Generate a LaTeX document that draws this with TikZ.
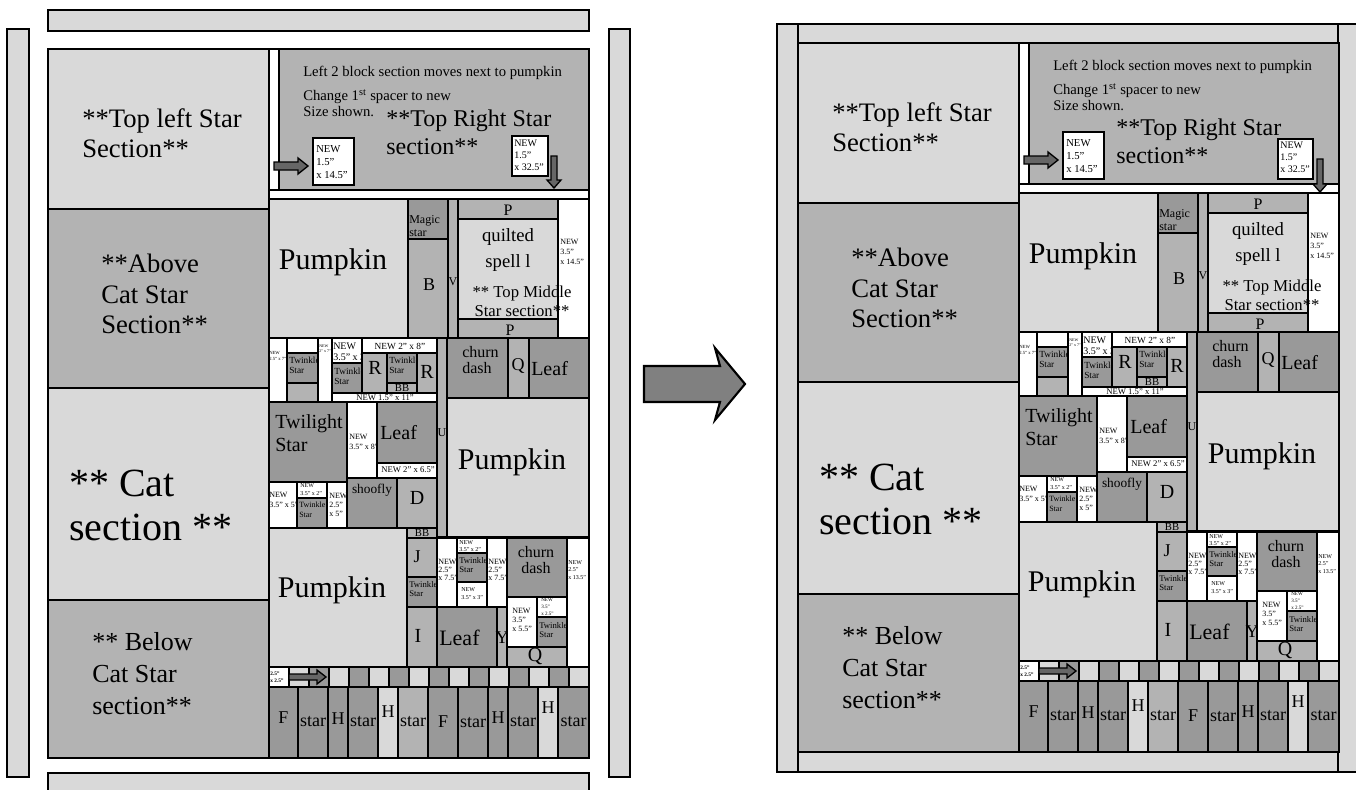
\documentclass[tikz,border=0pt]{standalone}
\usepackage{fontspec}
\setmainfont{Liberation Serif}
\usepackage{xcolor}
\usepackage{tikz}
\usetikzlibrary{calc}
\definecolor{qlight}{HTML}{D9D9D9}
\definecolor{qmid}{HTML}{B3B3B3}
\definecolor{qdark}{HTML}{999999}
\definecolor{qarrow}{HTML}{666666}
\definecolor{qbig}{HTML}{808080}
\tikzstyle{lt} = [draw, fill=qlight, line width=2pt]
\tikzstyle{md} = [draw, fill=qmid, line width=2pt]
\tikzstyle{dk} = [draw, fill=qdark, line width=2pt]
\tikzstyle{wt} = [draw, fill=white, line width=2pt]
\tikzstyle{cell} = [draw, line width=2pt]
\tikzstyle{arr} = [draw, fill=qarrow, line width=1pt, line join=miter]
\tikzstyle{txt} = [inner sep=0pt, anchor=west, align=left]
\tikzstyle{ctr} = [inner sep=0pt, align=center]
\newcommand{\fs}[2]{\fontsize{#1}{#2}\selectfont}

% the quilt layout, drawn once per panel
\newcommand{\quiltbody}{%
% left column
\draw[lt] (48,49) rectangle (269,209);
\draw[md] (48,209) rectangle (269,388);
\draw[lt] (48,388) rectangle (269,600);
\draw[md] (48,600) rectangle (269,758);
\node[txt, font=\fs{20}{22.5}] (topleft) at (82,133) {**Top left Star\\Section**};
\node[txt, font=\fs{20}{23}] (abovecat) at (101,294) {**Above\\Cat Star\\Section**};
\node[txt, font=\fs{30}{33}] (cat) at (69,505) {** Cat\\section **};
\node[txt, font=\fs{19.5}{24}] (belowcat) at (92,674) {** Below\\Cat Star\\section**};
% top right star section
\draw[wt] (269,49) rectangle (279,190);
\draw[md] (279,49) rectangle (589,190);
\draw[wt] (269,190) rectangle (589,199);
\node[txt, font=\fs{11}{16}] (notea) at (303,73) {Left 2 block section moves next to pumpkin};
\node[txt, font=\fs{11}{12}] (noteb) at (303,103) {Change 1\textsuperscript{st} spacer to new\\Size shown.};
\draw[wt] (313,138) rectangle (354,185);
\node[txt, font=\fs{8}{10}] (newa) at (316,162) {NEW\\1.5”\\x 14.5”};
\draw[arr] (274,162) -- (298,162) -- (298,158) -- (308,166) -- (298,174) -- (298,170) -- (274,170) -- cycle;
% pumpkin row
\draw[lt] (269,199) rectangle (408,338);
\node[ctr, font=\fs{22.5}{25}] (pumpa) at (333,262) {Pumpkin};
\draw[dk] (408,199) rectangle (448,239);
\node[txt, font=\fs{9}{10}] (magic) at (409,226) {Magic\\star};
\draw[md] (408,239) rectangle (448,338);
\node[ctr, font=\fs{13.5}{15}] (b) at (429,285) {B};
\draw[md] (448,199) rectangle (458,338);
\node[ctr, font=\fs{9}{10}] (v) at (453,282) {V};
\draw[md] (458,199) rectangle (558,219);
\node[ctr, font=\fs{12}{13}] (pa) at (508,210) {P};
\draw[lt] (458,219) rectangle (558,319);
\draw[md] (458,319) rectangle (558,338);
\node[ctr, font=\fs{12}{13}] (pb) at (510,330) {P};
\draw[wt] (558,199) rectangle (589,338);
\node[txt, font=\fs{6}{7.5}] (newb) at (560,252) {NEW\\3.5”\\x 14.5”};
\node[ctr, font=\fs{14}{19}] (quilted) at (508,250) {quilted\\spell l};
\node[ctr, font=\fs{12.5}{14}] (topmid) at (522,301) {** Top Middle\\Star section**};
% small blocks beside the pumpkin
\draw[wt] (269,338) rectangle (287,402);
\node[txt, font=\fs{3.5}{4.5}] (newc) at (269,356) {NEW\\2.5” x 7”};
\draw[wt] (287,338) rectangle (318,353);
\draw[dk] (287,353) rectangle (318,383);
\node[txt, font=\fs{7}{7.5}] (twa) at (289,365) {Twinkle\\Star};
\draw[md] (287,383) rectangle (318,402);
\draw[wt] (318,338) rectangle (332,402);
\node[txt, font=\fs{3}{4}] (newd) at (319,349) {NEW\\2” x 7”};
\draw[wt] (332,338) rectangle (362,363);
\node[txt, font=\fs{7.5}{8}] (newe) at (333,352) {NEW\\3.5” x 3”};
\draw[dk] (332,363) rectangle (362,393);
\node[txt, font=\fs{7}{7.5}] (twb) at (334,376) {Twinkle\\Star};
\draw[wt] (362,338) rectangle (437,353);
\node[ctr, font=\fs{7}{8}] (newf) at (400,346) {NEW 2” x 8”};
\draw[md] (362,353) rectangle (387,393);
\node[ctr, font=\fs{15}{16}] (ra) at (375,368) {R};
\draw[dk] (387,353) rectangle (417,383);
\node[txt, font=\fs{7}{7.5}] (twc) at (389,365) {Twinkle\\Star};
\draw[md] (387,383) rectangle (417,393);
\node[ctr, font=\fs{8}{9}] (bba) at (402,388) {BB};
\draw[md] (417,353) rectangle (437,393);
\node[ctr, font=\fs{15}{16}] (rb) at (427,372) {R};
\draw[wt] (332,393) rectangle (437,402);
\node[ctr, font=\fs{6.5}{7}] (newg) at (385,398) {NEW 1.5” x 11”};
% U strip and the right pumpkin
\draw[md] (437,338) rectangle (447,537);
\node[ctr, font=\fs{9}{10}] (u) at (442,433) {U};
\draw[dk] (447,338) rectangle (508,398);
\node[txt, font=\fs{12}{12}] (churna) at (462,360) {churn\\dash};
\draw[md] (508,338) rectangle (529,398);
\node[ctr, font=\fs{13.5}{15}] (qa) at (518,366) {Q};
\draw[dk] (529,338) rectangle (589,398);
\node[txt, font=\fs{15}{16}] (leafa) at (531,369) {Leaf};
\draw[lt] (447,398) rectangle (589,537);
\node[ctr, font=\fs{22.5}{25}] (pumpb) at (512,462) {Pumpkin};
% twilight row
\draw[dk] (269,402) rectangle (347,482);
\node[txt, font=\fs{15}{17}] (twilight) at (275,433) {Twilight\\Star};
\draw[wt] (347,402) rectangle (377,478);
\node[txt, font=\fs{6}{7}] (newh) at (349,442) {NEW\\3.5” x 8”};
\draw[dk] (377,402) rectangle (437,463);
\node[txt, font=\fs{15}{16}] (leafb) at (380,433) {Leaf};
\draw[wt] (377,463) rectangle (437,478);
\node[txt, font=\fs{6.5}{7}] (newi) at (381,470) {NEW 2” x 6.5”};
\draw[wt] (269,482) rectangle (297,528);
\node[txt, font=\fs{6}{7}] (newj) at (269,500) {NEW\\3.5” x 5”};
\draw[wt] (297,482) rectangle (327,498);
\node[txt, font=\fs{4.5}{6}] (newk) at (300,490) {NEW\\3.5” x 2”};
\draw[dk] (297,498) rectangle (327,528);
\node[txt, font=\fs{6}{7.5}] (twd) at (299,510) {Twinkle\\Star};
\draw[wt] (327,482) rectangle (347,528);
\node[txt, font=\fs{6}{6.5}] (newl) at (329,505) {NEW\\2.5”\\ x 5”};
\draw[dk] (347,478) rectangle (397,528);
\node[ctr, font=\fs{10}{11}] (shoofly) at (372,490) {shoofly};
\draw[md] (397,478) rectangle (437,528);
\node[ctr, font=\fs{15}{16}] (d) at (417,498) {D};
% lower pumpkin and its neighbours
\draw[lt] (269,528) rectangle (407,667);
\node[ctr, font=\fs{22.5}{25}] (pumpc) at (332,590) {Pumpkin};
\draw[md] (407,528) rectangle (437,538);
\node[ctr, font=\fs{8}{9}] (bbb) at (422,533) {BB};
\draw[md] (407,538) rectangle (437,577);
\node[ctr, font=\fs{13.5}{15}] (j) at (417,557) {J};
\draw[dk] (407,577) rectangle (437,607);
\node[txt, font=\fs{6.5}{7}] (twe) at (409,589) {Twinkle\\Star};
\draw[md] (407,607) rectangle (437,667);
\node[ctr, font=\fs{15}{16}] (i) at (418,636) {I};
\draw[wt] (437,538) rectangle (457,607);
\node[txt, font=\fs{6}{6}] (newm) at (438,570) {NEW\\2.5”\\ x 7.5”};
\draw[wt] (457,538) rectangle (487,553);
\node[txt, font=\fs{4.5}{5.5}] (newn) at (459,546) {NEW\\3.5” x 2”};
\draw[dk] (457,553) rectangle (487,582);
\node[txt, font=\fs{6.5}{7}] (twf) at (459,565) {Twinkle\\Star};
\draw[wt] (457,582) rectangle (487,607);
\node[txt, font=\fs{4.5}{6}] (newo) at (461,594) {NEW\\3.5” x 3”};
\draw[wt] (487,538) rectangle (507,607);
\node[txt, font=\fs{6}{6}] (newp) at (488,570) {NEW\\2.5”\\ x 7.5”};
\draw[dk] (507,538) rectangle (567,597);
\node[ctr, font=\fs{12}{12}] (churnb) at (536,560) {churn\\dash};
\draw[wt] (567,538) rectangle (589,667);
\node[txt, font=\fs{4.5}{5.5}] (newq) at (568,570) {NEW\\2.5”\\x 13.5”};
\draw[dk] (437,607) rectangle (497,667);
\node[txt, font=\fs{16.5}{18}] (leafc) at (439,638) {Leaf};
\draw[md] (497,607) rectangle (507,667);
\node[ctr, font=\fs{13.5}{15}] (y) at (502,638) {Y};
\draw[wt] (507,597) rectangle (537,647);
\node[txt, font=\fs{6}{7}] (newr) at (512,620) {NEW\\3.5”\\x 5.5”};
\draw[wt] (537,597) rectangle (567,617);
\node[txt, font=\fs{3.8}{5}] (news) at (541,607) {NEW\\3.5”\\x 2.5”};
\draw[dk] (537,617) rectangle (567,647);
\node[txt, font=\fs{6.5}{7}] (twg) at (539,630) {Twinkle\\Star};
\draw[md] (507,647) rectangle (567,667);
\node[ctr, font=\fs{15}{16}] (qb) at (535,656) {Q};
% spacer squares
\draw[wt] (269,667) rectangle (289,687);
\foreach \i in {1,3,...,15}
  \draw[lt] ({269+20*\i},667) rectangle ({289+20*\i},687);
\foreach \i in {2,4,...,14}
  \draw[dk] ({269+20*\i},667) rectangle ({289+20*\i},687);
\node[txt, font=\bfseries\fs{4}{5}] (newt) at (270,677) {2.5”\\x 2.5”};
\draw[arr] (289,674) -- (317,674) -- (317,670) -- (326,677) -- (317,684) -- (317,680) -- (289,680) -- cycle;
% bottom row of F, star and H blocks
\foreach \xa/\xb/\fc/\lab/\ly in {269/298/qdark/F/718, 298/328/qdark/star/722,
    328/348/qdark/H/719, 348/378/qdark/star/722, 378/398/qlight/H/712,
    398/428/qmid/star/722, 428/458/qdark/F/722, 458/488/qdark/star/723,
    488/508/qdark/H/718, 508/538/qdark/star/722, 538/558/qlight/H/708,
    558/589/qdark/star/722} {
  \draw[cell, fill=\fc] (\xa,687) rectangle (\xb,758);
  \node[ctr, font=\fs{13.5}{15}] (blk\xa) at ({(\xa+\xb)/2},\ly) {\lab};
}
}

\begin{document}
\begin{tikzpicture}[x=0.75pt, y=-0.75pt]
\useasboundingbox (0,0) rectangle (1356,789);
% ---- left panel: layout before the change
\draw[lt] (48,10) rectangle (589,31);
\draw[lt] (7,29) rectangle (29,777);
\draw[lt] (609,29) rectangle (630,777);
\draw[lt] (48,773) rectangle (589,800);
\begin{scope}[name prefix=L-]
\quiltbody
\node[txt, font=\fs{18}{21}] (topright) at (386,132) {**Top Right Star\\section**};
\draw[wt] (512,136) rectangle (548,176);
\node[txt, font=\fs{7.5}{9}] (newu) at (514,155) {NEW\\1.5”\\x 32.5”};
\draw[arr] (551,156) -- (557,156) -- (557,180) -- (561,180) -- (554,188) -- (547,180) -- (551,180) -- cycle;
\end{scope}
% ---- big arrow
\draw[draw, fill=qbig, line width=1.6pt, line join=miter] (644,366) -- (720,366) -- (715,348) -- (745,384) -- (715,420) -- (720,402) -- (644,402) -- cycle;
% ---- right panel: layout after the change
\draw[lt] (777,24) rectangle (798,772);
\draw[lt] (1338,24) rectangle (1362,772);
\draw[lt] (798,24) rectangle (1338,43);
\draw[lt] (798,751) rectangle (1338,772);
\begin{scope}[shift={(750,-6)}, name prefix=R-]
\quiltbody
\node[txt, font=\fs{18}{21}] (topright) at (366,147) {**Top Right Star\\section**};
\draw[wt] (528,145) rectangle (563,185);
\node[txt, font=\fs{7.5}{9}] (newu) at (530,163) {NEW\\1.5”\\x 32.5”};
\draw[arr] (567,165) -- (573,165) -- (573,190) -- (577,190) -- (570,198) -- (563,190) -- (567,190) -- cycle;
\end{scope}
\end{tikzpicture}
\end{document}
